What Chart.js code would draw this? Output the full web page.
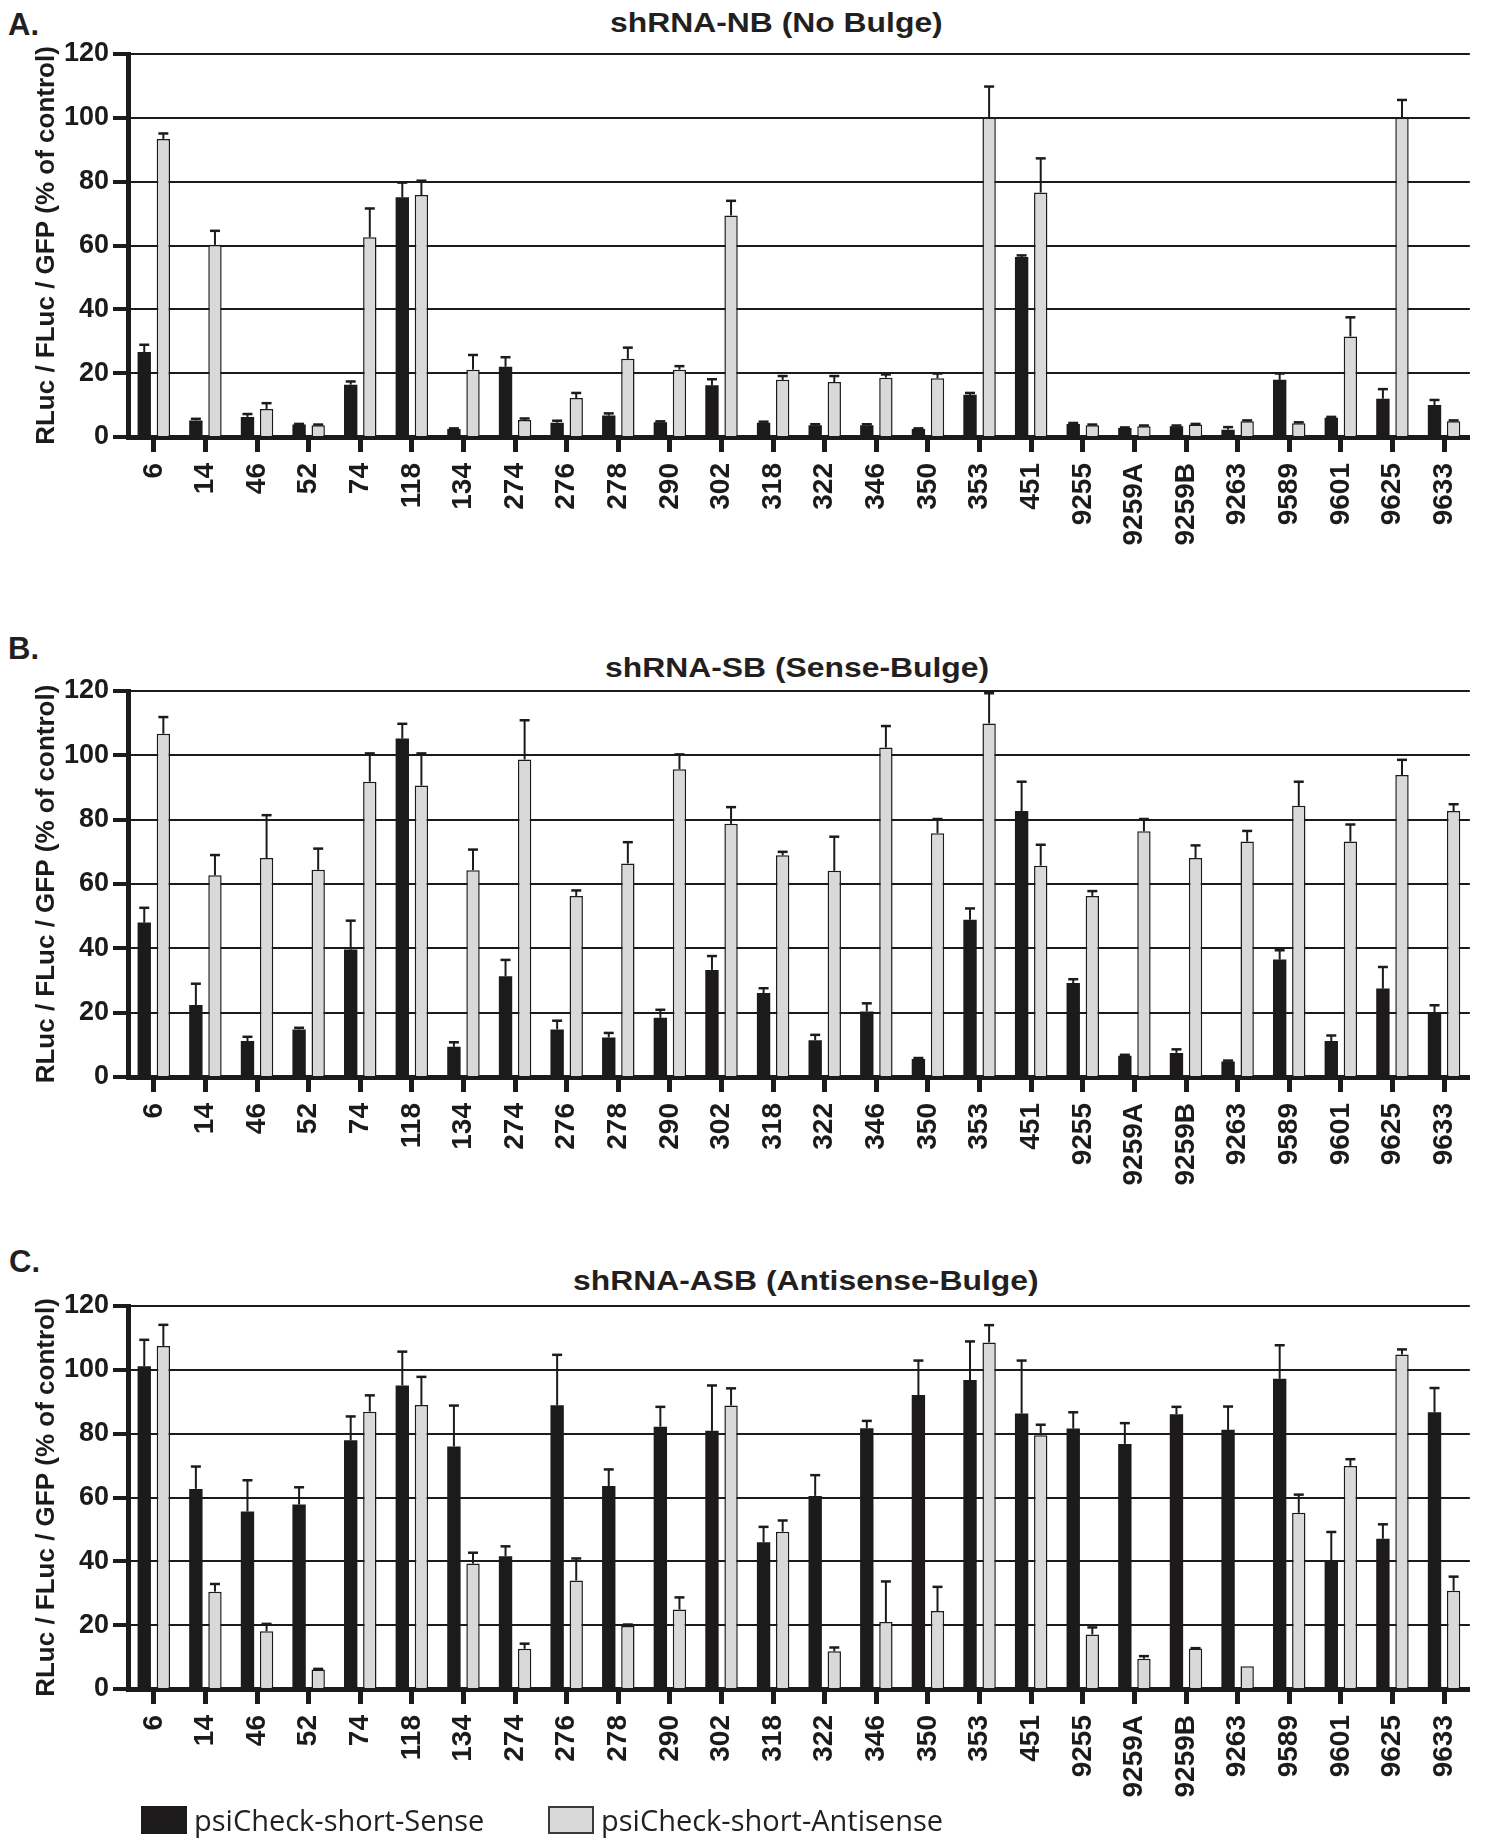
<!DOCTYPE html>
<html>
<head>
<meta charset="utf-8">
<title>shRNA reporter knockdown</title>
<script src="https://cdn.jsdelivr.net/npm/chart.js@4/dist/chart.umd.min.js"></script>
<style>
  html, body { margin: 0; padding: 0; background: #fff; }
  body {
    position: relative;
    width: 1489px;
    height: 1838px;
    overflow: hidden;
    color: #231f20;
    font-family: "Liberation Sans", Arial, sans-serif;
  }
  canvas { position: absolute; left: 0; }
  .letter {
    position: absolute;
    font-size: 31px;
    font-weight: bold;
    line-height: 1;
  }
  .title {
    position: absolute;
    font-size: 27px;
    font-weight: bold;
    line-height: 1;
    white-space: nowrap;
    transform: scaleX(1.18);
    transform-origin: left top;
  }
  .legend-item {
    position: absolute;
    top: 1805px;
    display: flex;
    align-items: center;
    white-space: nowrap;
    font-family: "Open Sans", "Noto Sans", sans-serif;
    font-size: 29px;
    line-height: 1;
  }
  .swatch { width: 46px; height: 28px; margin-right: 7px; box-sizing: border-box; }
</style>
</head>
<body>

<div class="letter" style="left:8px; top:9px">A.</div>
<div class="title" style="left:610px; top:10px">shRNA-NB (No Bulge)</div>
<canvas id="panelA"></canvas>

<div class="letter" style="left:8px; top:633px">B.</div>
<div class="title" style="left:605px; top:655px">shRNA-SB (Sense-Bulge)</div>
<canvas id="panelB"></canvas>

<div class="letter" style="left:9px; top:1246px">C.</div>
<div class="title" style="left:573px; top:1268px">shRNA-ASB (Antisense-Bulge)</div>
<canvas id="panelC"></canvas>

<div id="legend"></div>

<script>
// target sites (same for all three panels)
const categories = ["6", "14", "46", "52", "74", "118", "134", "274", "276", "278", "290", "302", "318",
  "322", "346", "350", "353", "451", "9255", "9259A", "9259B", "9263", "9589", "9601", "9625", "9633"]

const seriesNames = ["psiCheck-short-Sense", "psiCheck-short-Antisense"]
const yTickValues = [0, 20, 40, 60, 80, 100, 120]
const yTitle = "RLuc / FLuc / GFP (% of control)"

// A. shRNA-NB (No Bulge)
const nbSense = [26.6, 5.2, 6.3, 3.9, 16.4, 75.1, 2.5, 22.0, 4.5, 6.7, 4.6, 16.2, 4.5,
  3.7, 3.7, 2.5, 13.2, 56.4, 4.1, 2.8, 3.4, 2.3, 17.9, 6.0, 12.0, 10.0]
const nbSenseErr = [2.3, 0.5, 0.9, 0.2, 1.0, 4.6, 0.2, 3.0, 0.6, 0.7, 0.3, 1.9, 0.3,
  0.3, 0.3, 0.2, 0.6, 0.5, 0.3, 0.2, 0.2, 0.8, 2.0, 0.3, 3.0, 1.6]
const nbAntisense = [93.4, 60.2, 8.8, 3.7, 62.6, 75.8, 21.1, 5.3, 12.2, 24.5, 21.1, 69.4, 17.9,
  17.2, 18.6, 18.4, 100.0, 76.6, 3.7, 3.4, 3.9, 4.9, 4.3, 31.5, 100.0, 4.9]
const nbAntisenseErr = [1.7, 4.4, 1.8, 0.2, 9.0, 4.5, 4.6, 0.5, 1.6, 3.5, 1.1, 4.6, 1.2,
  1.9, 1.0, 1.5, 9.8, 10.7, 0.2, 0.2, 0.2, 0.3, 0.3, 6.0, 5.6, 0.3]

// B. shRNA-SB (Sense-Bulge)
const sbSense = [48.0, 22.4, 11.2, 14.8, 39.6, 105.2, 9.4, 31.3, 14.8, 12.3, 18.4, 33.3, 26.1,
  11.4, 20.4, 5.6, 48.9, 82.7, 29.2, 6.6, 7.5, 4.8, 36.5, 11.2, 27.5, 20.0]
const sbSenseErr = [4.6, 6.6, 1.3, 0.5, 9.0, 4.6, 1.4, 5.1, 2.7, 1.4, 2.5, 4.3, 1.5,
  1.7, 2.5, 0.3, 3.5, 9.1, 1.2, 0.3, 1.1, 0.3, 2.9, 1.7, 6.7, 2.3]
const sbAntisense = [106.7, 62.7, 68.1, 64.4, 91.8, 90.6, 64.3, 98.7, 56.3, 66.4, 95.7, 78.7, 68.9,
  64.1, 102.4, 75.8, 109.9, 65.7, 56.3, 76.4, 68.1, 73.2, 84.3, 73.2, 93.9, 82.7]
const sbAntisenseErr = [5.2, 6.3, 13.3, 6.6, 8.8, 10.0, 6.4, 12.2, 1.7, 6.6, 4.6, 5.2, 1.1,
  10.6, 6.7, 4.4, 9.4, 6.5, 1.5, 3.8, 3.9, 3.3, 7.5, 5.3, 4.7, 2.1]

// C. shRNA-ASB (Antisense-Bulge)
const asbSense = [101.1, 62.7, 55.6, 57.8, 77.9, 95.1, 76.0, 41.6, 88.9, 63.6, 82.2, 80.9, 46.0,
  60.5, 81.7, 92.1, 96.8, 86.3, 81.6, 76.8, 86.1, 81.2, 97.2, 40.0, 47.1, 86.7]
const asbSenseErr = [8.3, 7.0, 9.8, 5.4, 7.5, 10.6, 12.8, 3.1, 15.8, 5.2, 6.2, 14.2, 4.8,
  6.5, 2.3, 10.8, 12.1, 16.6, 5.1, 6.5, 2.3, 7.3, 10.5, 9.2, 4.5, 7.6]
const asbAntisense = [107.5, 30.5, 18.1, 6.1, 86.9, 89.0, 39.3, 12.6, 34.0, 19.7, 24.9, 88.8, 49.3,
  11.8, 21.0, 24.4, 108.6, 79.5, 17.1, 9.5, 12.7, 7.1, 55.2, 69.9, 104.8, 30.8]
const asbAntisenseErr = [6.6, 2.4, 2.3, 0.2, 5.1, 8.8, 3.4, 1.6, 6.9, 0.5, 3.8, 5.4, 3.5,
  1.2, 12.7, 7.6, 5.4, 3.3, 2.2, 0.8, 0.1, 0, 5.7, 2.1, 1.6, 4.4]

const INK = "#1c1a1b"
const GREY = "#d9d9d9"

// plot area placement: top = the 120 line, bottom = the 0 line
const PAD_TOP = 54
const X_AXIS_H = 160
const Y_AXIS_W = 128

// upward-only SEM whiskers with a small cap
const errorBars = {
  id: "errorBars",
  afterDatasetsDraw(chart) {
    const { ctx } = chart
    const y = chart.scales.y
    chart.data.datasets.forEach((ds, i) => {
      const meta = chart.getDatasetMeta(i)
      meta.data.forEach((bar, j) => {
        const err = ds.errors[j]
        if (!err) return
        const top = y.getPixelForValue(ds.data[j] + err)
        ctx.save()
        ctx.strokeStyle = INK
        ctx.lineWidth = 2
        ctx.beginPath()
        ctx.moveTo(bar.x, bar.y)
        ctx.lineTo(bar.x, top)
        ctx.stroke()
        ctx.lineWidth = 2.5
        ctx.beginPath()
        ctx.moveTo(bar.x - 5, top)
        ctx.lineTo(bar.x + 5, top)
        ctx.stroke()
        ctx.restore()
      })
    })
  }
}

function drawPanel(id, plotTop, plotBottom, sense, senseErr, antisense, antisenseErr) {
  const canvas = document.getElementById(id)
  canvas.width = 1489
  canvas.height = PAD_TOP + (plotBottom - plotTop) + X_AXIS_H
  canvas.style.top = (plotTop - PAD_TOP) + "px"

  new Chart(canvas.getContext("2d"), {
    type: "bar",
    data: {
      labels: categories,
      datasets: [
        {
          label: seriesNames[0],
          data: sense,
          errors: senseErr,
          backgroundColor: INK,
          borderWidth: 0
        },
        {
          label: seriesNames[1],
          data: antisense,
          errors: antisenseErr,
          backgroundColor: GREY,
          borderColor: INK,
          borderWidth: 1.5
        }
      ]
    },
    options: {
      responsive: false,
      animation: false,
      devicePixelRatio: 1,
      layout: { padding: { top: PAD_TOP, right: 18, bottom: 0, left: 0 } },
      datasets: {
        bar: { categoryPercentage: 0.74, barPercentage: 0.7 }
      },
      plugins: {
        legend: { display: false },
        title: { display: false },
        tooltip: { enabled: false }
      },
      scales: {
        x: {
          z: 1,
          afterFit: s => { s.height = X_AXIS_H },
          border: { display: true, color: INK, width: 5 },
          grid: {
            offset: false,
            drawOnChartArea: false,
            drawTicks: true,
            tickLength: 15,
            tickWidth: 5,
            tickColor: INK
          },
          ticks: {
            color: INK,
            font: { family: "'Liberation Sans', Arial, sans-serif", size: 28, weight: "bold" },
            minRotation: 90,
            maxRotation: 90,
            autoSkip: false,
            padding: 11
          }
        },
        y: {
          min: 0,
          max: 120,
          afterFit: s => { s.width = Y_AXIS_W },
          afterBuildTicks: s => { s.ticks = yTickValues.map(v => ({ value: v })) },
          border: { display: true, color: INK, width: 5 },
          grid: {
            color: INK,
            lineWidth: 2,
            drawTicks: true,
            tickLength: 15,
            tickWidth: 4,
            tickColor: INK
          },
          ticks: {
            color: INK,
            font: { family: "'Liberation Sans', Arial, sans-serif", size: 27, weight: "bold" },
            padding: 4
          },
          title: {
            display: true,
            text: yTitle,
            color: INK,
            font: { family: "'Liberation Sans', Arial, sans-serif", size: 26, weight: "bold" },
            padding: { top: 31, bottom: 0 }
          }
        }
      }
    },
    plugins: [errorBars]
  })
}

drawPanel("panelA", 54, 437, nbSense, nbSenseErr, nbAntisense, nbAntisenseErr)
drawPanel("panelB", 691, 1077, sbSense, sbSenseErr, sbAntisense, sbAntisenseErr)
drawPanel("panelC", 1306, 1689, asbSense, asbSenseErr, asbAntisense, asbAntisenseErr)

// legend under panel C
const legendSpots = [141, 548]
const legend = document.getElementById("legend")
seriesNames.forEach((name, i) => {
  const item = document.createElement("div")
  item.className = "legend-item"
  item.style.left = legendSpots[i] + "px"
  const swatch = document.createElement("div")
  swatch.className = "swatch"
  swatch.style.background = i === 0 ? INK : GREY
  if (i === 1) swatch.style.border = "2px solid #3a3a3a"
  const text = document.createElement("span")
  text.textContent = name
  item.appendChild(swatch)
  item.appendChild(text)
  legend.appendChild(item)
})
</script>
</body>
</html>
